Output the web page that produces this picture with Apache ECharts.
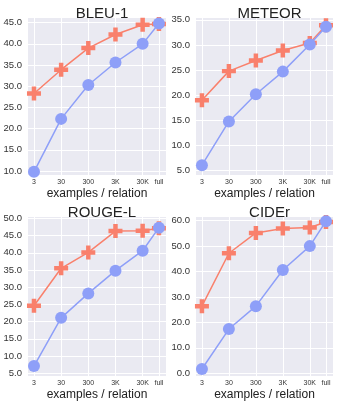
<!DOCTYPE html>
<html>
<head>
<meta charset="utf-8">
<script src="https://cdn.jsdelivr.net/npm/echarts@6/dist/echarts.min.js"></script>
<style>
  html, body { margin: 0; padding: 0; background: #fff; }
  #chart { width: 338px; height: 403px; }
</style>
</head>
<body>
<div id="chart"></div>
<script>
// x categories, placed on a value axis (full is closer to 30K)
const xLabels = ['3', '30', '300', '3K', '30K', 'full'];
const xPos = [0, 1, 2, 3, 4, 4.6];

const titles = ['BLEU-1', 'METEOR', 'ROUGE-L', 'CIDEr'];

// red "+" series
const plusBleu = [28.3, 33.9, 39.0, 42.2, 44.5, 44.7];
const plusMeteor = [19.0, 24.8, 26.9, 28.9, 30.4, 33.9];
const plusRouge = [24.6, 35.5, 40.1, 46.3, 46.4, 47.1];
const plusCider = [26.4, 47.2, 55.2, 56.9, 57.3, 59.5];

// blue circle series
const dotBleu = [9.8, 22.3, 30.3, 35.6, 40.0, 44.8];
const dotMeteor = [6.1, 14.8, 20.2, 24.7, 30.1, 33.6];
const dotRouge = [7.1, 21.1, 28.2, 34.8, 40.6, 47.3];
const dotCider = [1.7, 17.4, 26.4, 40.6, 50.0, 59.8];

// y tick labels
const yTicksBleu = [10, 15, 20, 25, 30, 35, 40, 45];
const yTicksMeteor = [5, 10, 15, 20, 25, 30, 35];
const yTicksRouge = [5, 10, 15, 20, 25, 30, 35, 40, 45, 50];
const yTicksCider = [0, 10, 20, 30, 40, 50, 60];

const panels = [
  { title: titles[0], plus: plusBleu, dot: dotBleu, ticks: yTicksBleu, min: 9.06, max: 46.1, box: { left: 28, top: 18, width: 138, height: 157 } },
  { title: titles[1], plus: plusMeteor, dot: dotMeteor, ticks: yTicksMeteor, min: 4.15, max: 35.36, box: { left: 196, top: 18, width: 137, height: 157 } },
  { title: titles[2], plus: plusRouge, dot: dotRouge, ticks: yTicksRouge, min: 4.2, max: 50.4, box: { left: 28, top: 217, width: 138, height: 159 } },
  { title: titles[3], plus: plusCider, dot: dotCider, ticks: yTicksCider, min: -1.06, max: 61.45, box: { left: 196, top: 217, width: 137, height: 159 } }
];

const RED = '#f9806c';
const BLUE = '#8e9ff8';
const FONT = 'Liberation Sans, Arial, sans-serif';
const plusPath = 'path://M3.4,0H6.6V3.4H10V6.6H6.6V10H3.4V6.6H0V3.4H3.4Z';

const chart = echarts.init(document.getElementById('chart'), null, { renderer: 'canvas' });

const grid = [], xAxis = [], yAxis = [], series = [], title = [];
panels.forEach((p, i) => {
  grid.push({ ...p.box, backgroundColor: '#eaeaf2', show: true, borderWidth: 0 });
  title.push({
    text: p.title, left: p.box.left + p.box.width / 2, top: p.box.top - 17, textAlign: 'center',
    textStyle: { fontFamily: FONT, fontSize: 15, fontWeight: 'normal', color: '#222' }
  });
  xAxis.push({
    type: 'value', gridIndex: i, min: -0.22, max: 4.86,
    name: 'examples / relation', nameLocation: 'middle', nameGap: 13,
    nameTextStyle: { fontFamily: FONT, fontSize: 12, color: '#222' },
    axisLine: { show: false },
    axisTick: { show: false, customValues: xPos },
    axisLabel: {
      customValues: xPos, margin: 4, fontFamily: FONT, fontSize: 7, color: '#333',
      formatter: v => xLabels[xPos.indexOf(v)]
    },
    splitLine: { show: true, lineStyle: { color: '#fff', width: 1 } }
  });
  yAxis.push({
    type: 'value', gridIndex: i, min: p.min, max: p.max,
    axisLine: { show: false },
    axisTick: { show: false, customValues: p.ticks },
    axisLabel: {
      customValues: p.ticks, margin: 6, fontFamily: FONT, fontSize: 9.5, color: '#333',
      formatter: v => v.toFixed(1)
    },
    splitLine: { show: true, lineStyle: { color: '#fff', width: 1 } }
  });
  series.push({
    type: 'line', xAxisIndex: i, yAxisIndex: i,
    data: xPos.map((x, k) => [x, p.plus[k]]),
    symbol: plusPath, symbolSize: 14,
    lineStyle: { color: RED, width: 1.5 }, itemStyle: { color: RED }
  });
  series.push({
    type: 'line', xAxisIndex: i, yAxisIndex: i,
    data: xPos.map((x, k) => [x, p.dot[k]]),
    symbol: 'circle', symbolSize: 12,
    lineStyle: { color: BLUE, width: 1.5 }, itemStyle: { color: BLUE }
  });
});

chart.setOption({ animation: false, title, grid, xAxis, yAxis, series });
</script>
</body>
</html>
